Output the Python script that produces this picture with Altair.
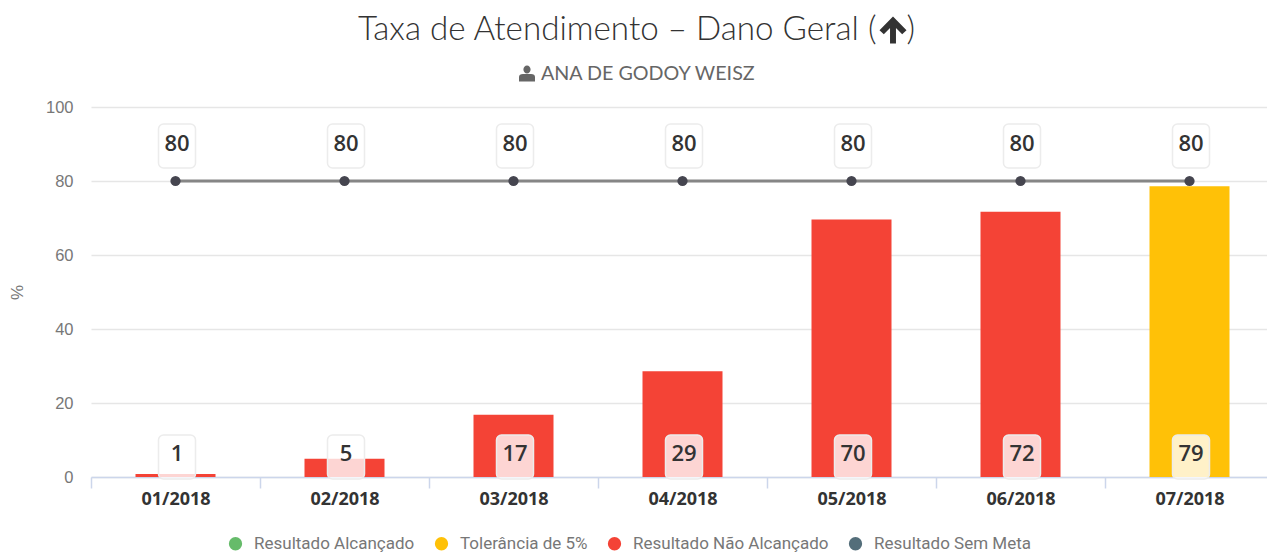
import altair as alt
import pandas as pd

months = ["01/2018", "02/2018", "03/2018", "04/2018", "05/2018", "06/2018", "07/2018"]
values = [0.8, 4.9, 16.8, 28.6, 69.6, 71.7, 78.6]
labels = ["1", "5", "17", "29", "70", "72", "79"]
targets = [80, 80, 80, 80, 80, 80, 80]
statuses = ["Resultado Não Alcançado"] * 6 + ["Tolerância de 5%"]
legend_names = ["Resultado Alcançado", "Tolerância de 5%", "Resultado Não Alcançado", "Resultado Sem Meta"]
legend_colors = ["#66BB6A", "#FFC107", "#F44336", "#546E7A"]
TITLE = "Taxa de Atendimento – Dano Geral ("
TITLE_END = ")"
SUBTITLE = "ANA DE GODOY WEISZ"
PERSON = "M-0.45,-0.5 A0.45,0.5 0 1 1 0.45,-0.5 A0.45,0.5 0 1 1 -0.45,-0.5 Z M-1,1 L-1,0.45 Q-1,0.05 -0.5,0.05 L0.5,0.05 Q1,0.05 1,0.45 L1,1 Z"
ARROW = "M0,-1 L1,0.02 L0.68,0.32 L0.22,-0.15 L0.22,1 L-0.22,1 L-0.22,-0.15 L-0.68,0.32 L-1,0.02 Z"

df = pd.DataFrame({"m": months, "v": values, "l": labels, "t": targets, "s": statuses})
df["zero"] = 0

FONT = "Lato"
x = alt.X("m:N", sort=months, title=None,
          scale=alt.Scale(paddingInner=0, paddingOuter=0),
          axis=alt.Axis(labelAngle=0, labelFontSize=18, labelFontWeight="bold", labelColor="#333333",
                        labelFont="Open Sans", labelPadding=2, domainColor="#ccd6eb", domainWidth=1.5, tickColor="#ccd6eb",
                        tickSize=11, tickWidth=1.5, tickBand="extent", grid=False))
y = alt.Y("v:Q", title="%",
          scale=alt.Scale(domain=[0, 100], nice=False),
          axis=alt.Axis(values=[0, 20, 40, 60, 80, 100], labelFontSize=16.5, labelColor="#777777",
                        labelFont="Liberation Sans", labelPadding=18, domain=False, ticks=False, gridColor="#e6e6e6",
                        gridWidth=1.5, titleFontSize=17, titleColor="#777777", titleFontWeight="normal",
                        titleFont="Liberation Sans", titlePadding=19))

bars = alt.Chart(df).mark_bar(size=80, clip=False).encode(
    x=x, y=y,
    color=alt.Color("s:N", scale=alt.Scale(domain=legend_names, range=legend_colors),
                    legend=alt.Legend(orient="none", legendX=136, legendY=428, direction="horizontal", columns=4,
                                      title=None, symbolType="circle", symbolSize=177, symbolStrokeWidth=0,
                                      labelFontSize=17, labelColor="#777777", labelFont="Roboto",
                                      columnPadding=18, labelOffset=10, labelLimit=300)))

line = alt.Chart(df).mark_line(color="#868686", strokeWidth=3).encode(x=x, y="t:Q")
pts = alt.Chart(df).mark_point(filled=True, color="#45454f", size=105, opacity=1).encode(x=x, y="t:Q")

box_style = dict(width=37, height=44, cornerRadius=5, fill="white", fillOpacity=0.78,
                 stroke="#ececec", strokeWidth=1.5, xOffset=1.5)
num_style = dict(xOffset=1.5, fontSize=22, fontWeight=600, font="Open Sans", color="#333333")
top_box = alt.Chart(df).mark_rect(yOffset=-35, **box_style).encode(x=x, y="t:Q")
top_text = alt.Chart(df).mark_text(yOffset=-37, **num_style).encode(x=x, y="t:Q", text="t:Q")
bot_box = alt.Chart(df).mark_rect(yOffset=-20, **box_style).encode(x=x, y="zero:Q")
bot_text = alt.Chart(df).mark_text(yOffset=-23, **num_style).encode(x=x, y="zero:Q", text="l:N")

title = alt.Chart(pd.DataFrame({"t": [TITLE]})).mark_text(
    fontSize=33.2, font=FONT, fontWeight=300, color="#333333", align="left", baseline="middle"
).encode(x=alt.value(267), y=alt.value(-77), text="t:N")
title_end = alt.Chart(pd.DataFrame({"t": [TITLE_END]})).mark_text(
    fontSize=33.2, font=FONT, fontWeight=300, color="#333333", align="right", baseline="middle"
).encode(x=alt.value(824), y=alt.value(-77), text="t:N")
arrow = alt.Chart(pd.DataFrame({"t": [TITLE]})).mark_point(
    shape=ARROW, filled=True, color="#333333", size=729, opacity=1
).encode(x=alt.value(802), y=alt.value(-77))
subtitle = alt.Chart(pd.DataFrame({"t": [SUBTITLE]})).mark_text(
    fontSize=19.7, font=FONT, color="#666666", align="left", baseline="middle"
).encode(x=alt.value(450), y=alt.value(-33), text="t:N")
icon = alt.Chart(pd.DataFrame({"t": [SUBTITLE]})).mark_point(
    shape=PERSON, filled=True, color="#666666", size=256, opacity=1
).encode(x=alt.value(436), y=alt.value(-33.5))

chart = alt.layer(bars, line, pts, top_box, top_text, bot_box, bot_text, title, title_end, arrow, subtitle, icon).properties(
    width=1183, height=370,
    autosize=alt.AutoSizeParams(type="none"),
    padding={"left": 83, "top": 99, "right": -7, "bottom": 76},
).configure_view(stroke=None)

chart.save("out.html", embed_options={"renderer": "svg", "actions": False})
